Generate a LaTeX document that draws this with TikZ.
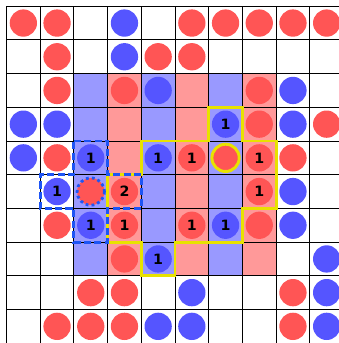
\documentclass[tikz,border=0pt]{standalone}
\usepackage{fontspec}
\newfontfamily\numfont{DejaVu Sans}
\definecolor{cred}{RGB}{255,85,85}
\definecolor{cblue}{RGB}{85,85,255}
\definecolor{shred}{RGB}{255,153,153}
\definecolor{shblue}{RGB}{153,153,255}
\definecolor{cyel}{RGB}{232,226,0}
\definecolor{cdash}{RGB}{30,85,245}
\tikzset{
  rshade/.style={fill=shred},
  bshade/.style={fill=shblue},
  gridline/.style={draw=black,line width=0.8pt},
  dotbase/.style={circle,minimum size=0.81cm,inner sep=0pt,font=\numfont\bfseries\fontsize{12}{12}\selectfont},
  rdot/.style={dotbase,fill=cred},
  bdot/.style={dotbase,fill=cblue},
  yring/.style={draw=cyel,line width=2.5pt},
  bdotring/.style={draw=cdash,line width=2.4pt,dash pattern=on 2.4pt off 2.6pt},
  yline/.style={draw=cyel,line width=2.5pt,line join=miter},
  bdashline/.style={draw=cdash,line width=2.5pt,dash pattern=on 6pt off 2.8pt},
}
\begin{document}
\begin{tikzpicture}[x=1cm,y=-1cm]
\useasboundingbox (-0.193,-0.184) rectangle (9.866,9.994);
\begin{scope}
\clip (-0.193,-0.184) rectangle (9.866,9.994);
% shaded columns
\foreach \c in {2,4,6} \fill[bshade] (\c,2) rectangle ++(1,6);
\foreach \c in {3,5,7} \fill[rshade] (\c,2) rectangle ++(1,6);
% grid
\draw[gridline] (0,0) grid (10,10.5);
% red circles
\foreach \c/\r in {0/0,1/0,5/0,6/0,7/0,8/0,9/0,
                   1/1,4/1,5/1,
                   1/2,3/2,7/2,
                   7/3,9/3,
                   1/4,8/4,
                   1/6,7/6,
                   3/7,
                   2/8,3/8,8/8,
                   1/9,2/9,3/9,8/9}
  \node[rdot] (r\c-\r) at (\c+0.5,\r+0.5) {};
% blue circles
\foreach \c/\r in {3/0,
                   3/1,
                   4/2,8/2,
                   0/3,1/3,8/3,
                   0/4,
                   8/5,
                   8/6,
                   9/7,
                   5/8,9/8,
                   4/9,5/9,9/9}
  \node[bdot] (b\c-\r) at (\c+0.5,\r+0.5) {};
% numbered blue circles
\foreach \c/\r in {6/3,2/4,4/4,1/5,2/6,6/6,4/7}
  \node[bdot] (b\c-\r) at (\c+0.5,\r+0.5) {1};
% numbered red circles
\foreach \c/\r in {5/4,7/4,7/5,3/6,5/6}
  \node[rdot] (r\c-\r) at (\c+0.5,\r+0.5) {1};
\node[rdot] (r3-5) at (3.5,5.5) {2};
% special circles
\node[rdot,yring] (r6-4) at (6.5,4.5) {};
\node[rdot] (r2-5) at (2.5,5.5) {};
\draw[bdotring] (r2-5.center) circle (0.405);
% yellow outline
\draw[yline] (4,4) -- (4,5) -- (3,5) -- (3,7) -- (4,7) -- (4,8) -- (5,8) -- (5,7)
  -- (7,7) -- (7,6) -- (8,6) -- (8,4) -- (7,4) -- (7,3) -- (6,3) -- (6,4) -- cycle;
% blue dashed plus
\draw[bdashline] (2,4) -- (3,4) -- (3,5) -- (4,5) -- (4,6) -- (3,6) -- (3,7)
  -- (2,7) -- (2,6) -- (1,6) -- (1,5) -- (2,5) -- cycle;
\end{scope}
\end{tikzpicture}
\end{document}
